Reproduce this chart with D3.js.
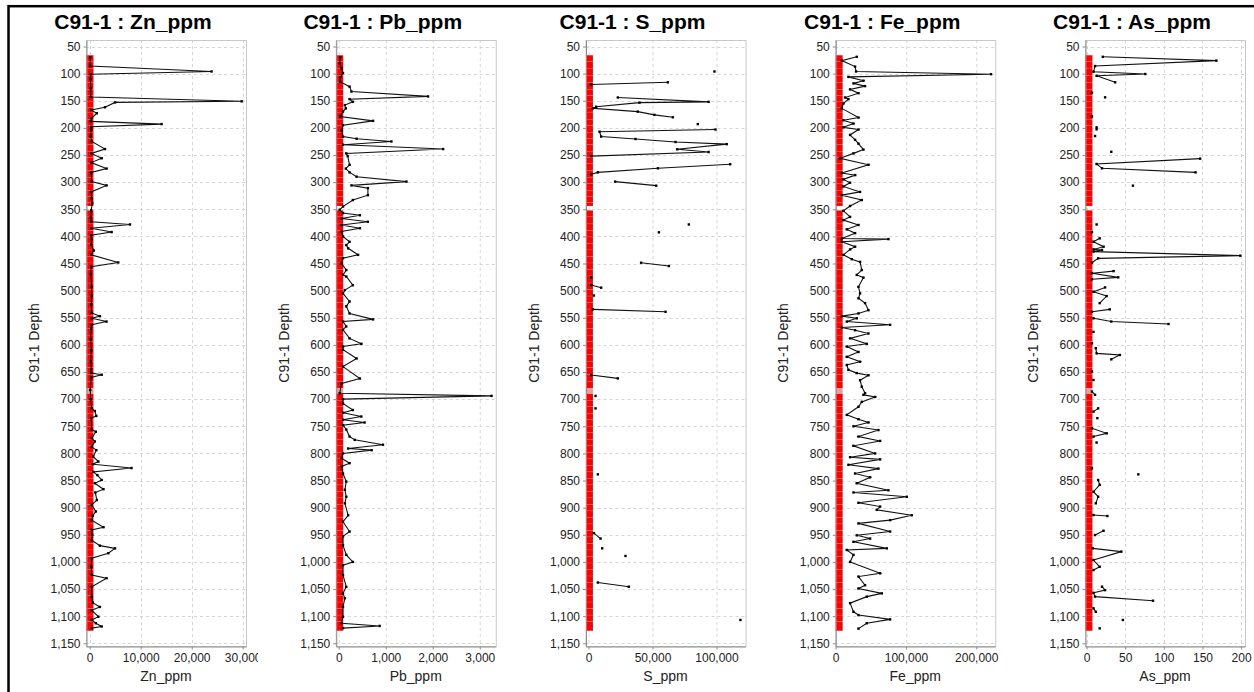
<!DOCTYPE html>
<html>
<head>
<meta charset="utf-8">
<script src="https://cdn.jsdelivr.net/npm/d3@7"></script>
<style>
  body { margin: 0; background: #fff; font-family: Arial, "Liberation Sans", sans-serif; }
  .grid line { stroke: #d6d6d6; stroke-dasharray: 3,3; stroke-width: 1; }
  .axis path, .axis line { stroke: #8c8c8c; }
  .axis text { font-size: 12px; fill: #222; font-family: Arial, "Liberation Sans", sans-serif; }
  .frame { fill: none; stroke: #c8c8c8; }
  .trace { fill: none; stroke: #111; stroke-width: 1.1; }
  .dot { fill: #000; }
  .title { font-size: 21px; font-weight: bold; fill: #000; }
  .label { font-size: 14px; fill: #222; }
</style>
</head>
<body>
<svg id="chart" width="1254" height="692"></svg>
<script>
'use strict';

// ---- datos ----
var holeId = 'C91-1';
var depthTicks = [50, 100, 150, 200, 250, 300, 350, 400, 450, 500, 550, 600, 650, 700, 750, 800, 850, 900, 950, 1000, 1050, 1100, 1150];

// intervalos de muestreo (franja roja), cada par consecutivo es un intervalo
var sampleRunA = [66, 78, 90, 103, 116, 129, 140, 152, 163, 171, 184, 196, 208, 220, 231, 243, 255, 266, 279, 291, 303, 315, 327, 338, 344];
var sampleRunB = [352, 364, 377, 389, 401, 413, 425, 437, 449, 461, 473, 486, 498, 510, 522, 534, 546, 558, 570, 582, 594, 606, 618, 630, 642, 655, 667, 680];
var samplePale = [680, 690];
var sampleRunC = [690, 702, 714, 726, 738, 750, 762, 774, 786, 798, 810, 822, 834, 846, 858, 870, 882, 894, 906, 918, 930, 942, 954, 966, 978, 990, 1002, 1014, 1026, 1038, 1050, 1062, 1074, 1086, 1098, 1110, 1127];

// [profundidad, ppm]; null corta la linea
var zn = [[70,100],[86,100],[96,23900],[101,200],[110,150],[127,200],[143,200],[151,29800],[153,4960],[162,3000],[167,300],[173,1400],[182,400],[188,200],[193,14100],[198,300],[203,300],[215,200],[225,400],[239,3000],[247,300],[256,2350],[264,300],[275,3300],[282,300],[299,400],[306,3300],[318,300],[330,400],[339,500],[352,300],[365,200],[373,300],[378,7900],[385,300],[392,4300],[398,300],[405,400],[415,300],[426,800],[434,300],[448,5600],[456,300],[470,200],[493,400],[510,400],[525,300],[541,400],[547,2000],[551,400],[557,3300],[563,400],[570,300],[590,200],[610,300],[630,200],[645,300],[652,300],[655,2350],[660,300],[683,100],[700,200],[717,400],[722,1000],[731,1300],[735,300],[756,400],[760,1200],[772,400],[778,1000],[788,400],[794,1300],[806,700],[815,1700],[820,600],[827,8200],[834,700],[840,1500],[849,2350],[855,1000],[866,2700],[872,1100],[886,1400],[895,400],[907,1200],[915,600],[923,400],[936,2700],[941,400],[950,500],[960,400],[970,2000],[975,4960],[984,3650],[993,400],[1009,300],[1024,400],[1030,3300],[1046,400],[1064,400],[1075,600],[1083,2000],[1089,400],[1101,1700],[1107,400],[1113,1200],[1119,2350],[1122,400]];

var pb = [[70,30],[81,20],[90,60],[99,90],[107,30],[115,30],[124,230],[133,270],[142,1900],[147,230],[152,300],[158,130],[164,150],[170,90],[179,30],[187,730],[195,90],[205,60],[216,90],[220,380],[225,1120],[231,90],[239,2220],[247,160],[252,190],[268,230],[275,150],[282,230],[290,380],[299,1440],[306,270],[311,620],[324,620],[333,300],[345,90],[351,20],[357,90],[361,450],[367,60],[373,620],[379,60],[385,450],[391,60],[400,90],[410,230],[416,160],[422,200],[434,410],[440,90],[450,60],[462,160],[471,90],[474,160],[490,300],[499,130],[505,90],[520,230],[529,160],[542,230],[553,730],[557,90],[566,160],[572,90],[588,230],[598,480],[603,90],[609,90],[625,380],[640,90],[662,450],[671,60],[689,20],[694,3250],[700,90],[708,90],[720,300],[725,90],[732,480],[738,90],[743,550],[748,90],[756,160],[769,230],[775,340],[784,940],[791,200],[794,700],[800,90],[809,60],[818,230],[824,60],[837,90],[852,160],[867,130],[880,160],[892,130],[914,200],[926,90],[944,230],[953,90],[969,90],[987,160],[1000,300],[1006,90],[1024,90],[1046,160],[1058,90],[1067,130],[1083,90],[1101,90],[1113,60],[1118,870],[1122,90]];

var s = [[96,98400],null,[116,62000],[120,2000],null,[144,22900],[152,93800],[153.5,39800],[161,6000],[164,3400],[170,38500],[176,51500],[180.5,65900],null,[193,85400],null,[203,99200],[207,8600],[216,9900],[220.5,36700],[226,68000],[230,108000],[239.5,69300],[244.5,93800],[252,2100],null,[267,110700],[274.5,54200],[282,7300],[285.6,2100],null,[299,20800],[306.5,52900],null,[378,78400],null,[392.5,55000],null,[448.5,41100],[454.6,62800],null,[475.5,2100],null,[489.6,2100],[494.5,9900],null,[509,4200],null,[534.5,3400],[539,60200],null,[655.5,2100],[661.7,22900],null,[694,5500],null,[717,5500],null,[838.6,7300],null,[947,4200],[957,9400],null,[975,10700],null,[989,28900],null,[1038,7300],[1045.7,31500],null,[1107,118700]];

var fe = [[69,30100],[76,8800],[87,27700],[96,29100],[101,221000],[106,18200],[113,39600],[118,25400],[123,41900],[129,20600],[136,32500],[144,13500],[147,18200],[155,11100],[164,8800],[181,32500],[186,11100],[192,25400],[199,11100],[203,32500],[213,20600],[222,27700],[229,32500],[240,39600],[247,25400],[256,6400],[268,46700],[283,8800],[287,27700],[295,11100],[301,20600],[308,11100],[318,34800],[324,8800],[333,37200],[344,20600],[353,11100],[364,20600],[370,11100],[379,32500],[387,15900],[394,27700],[404,8800],[405,75100],[410,8800],[419,27700],[424,20600],[434,11100],[442,23000],[447,34800],[462,37200],[471,30100],[476,39600],[493,32500],[505,34800],[514,32500],[523,41900],[536,46700],[542,32500],[547,8800],[551,30100],[557,15900],[563,77500],[568,8800],[573,27700],[579,46700],[588,20600],[598,44300],[603,15900],[613,32500],[622,15900],[631,34800],[637,15900],[646,18200],[652,30100],[656,46700],[665,34800],[677,37200],[689,41900],[692,39600],[696,56200],[705,37200],[714,32500],[729,15900],[737,32500],[743,46700],[750,25400],[757,60900],[769,32500],[777,63300],[786,25400],[800,56200],[807,20600],[811,63300],[821,18200],[828,60900],[837,27700],[844,49100],[855,30100],[868,75100],[872,25400],[880,101200],[891,32500],[898,63300],[904,58500],[914,108300],[923,77500],[929,32500],[944,77500],[951,30100],[957,49100],[963,25400],[975,72800],[978,15900],[987,25400],[1000,20600],[1021,63300],[1027,32500],[1043,41900],[1049,32500],[1058,65700],[1064,44300],[1076,20600],[1092,25400],[1098,32500],[1106,77500],[1113,44300],[1123,32500]];

var as = [[69,21],[76,168],[86,11],[96.4,9],[100.7,76],[104,13],[116,37],null,[135,7],null,[143.7,24],null,[179,7],null,[199,13],[202.7,13],null,[215,11],null,[244,32],null,[256.7,147],[266.6,13],[274.5,20],[282,141],null,[306.5,60],null,[378,13],null,[392,7],null,[403.6,17],[409.7,9],[419,22],[424,9],[425,20],[428,9],[435.5,199],[440.5,15],[448.5,7],null,[464,35],[468,7],[475.5,41],[479,7],null,[494,24],[502,9],[510,26],[523,17],null,[534.5,30],[539,7],null,[551,9],[557,32],[561.5,106],null,[576,9],null,[597,7],null,[606,12],[615.6,13],[618.6,43],[626.6,32],null,[649,7],null,[664.7,9],null,[686,7],[692,11],null,[717,15],[723,9],null,[735,14],null,[753.8,7],[763,26],[769,9],null,[780,13],null,[827.6,7],null,[838.6,67],null,[849,15],[858,17],[870.6,9],[879.8,15],[892,12],null,[913.6,9],[915.4,27],null,[942.5,22],[950.5,11],null,[975,8],[981,45],[996.5,9],[1009,17],[1015,9],null,[1045.7,20],[1052,24],[1057,9],[1064,11],[1071.5,86],null,[1085.6,9],[1092,12],null,[1107,47],null,[1122.5,17]];

var elementNames = ['Zn_ppm', 'Pb_ppm', 'S_ppm', 'Fe_ppm', 'As_ppm'];
var elementData = [zn, pb, s, fe, as];
var elementTicks = [
    [0, 10000, 20000, 30000],
    [0, 1000, 2000, 3000],
    [0, 50000, 100000],
    [0, 100000, 200000],
    [0, 50, 100, 150, 200]
];
var elementDomains = [[-725, 30650], [-64, 3340], [-2344, 122656], [-500, 227000], [-2, 205]];

// ---- dibujo ----
var svg = d3.select('#chart');
var panelWidth = 249.75;
var plot = { left: 78, top: 40, width: 160, height: 606 };
var stripWidth = 7;
var fmt = d3.format(',');

svg.append('rect')
    .attr('x', 8.5).attr('y', 6.2)
    .attr('width', 1400).attr('height', 900)
    .attr('fill', 'none').attr('stroke', '#000').attr('stroke-width', 2.5);

var y = d3.scaleLinear().domain([38, 1155]).range([plot.top, plot.top + plot.height]);

function drawStrip(g, breaks, fill) {
    var pairs = d3.pairs(breaks);
    g.selectAll(null).data(pairs).enter().append('rect')
        .attr('x', 0.5)
        .attr('y', function (d) { return y(d[0]); })
        .attr('width', stripWidth)
        .attr('height', function (d) { return y(d[1]) - y(d[0]); })
        .attr('fill', fill)
        .attr('stroke', 'rgba(255,255,255,0.2)')
        .attr('stroke-width', 0.5);
}

function drawPanel(i) {
    var px = 8 + i * panelWidth;
    var panel = svg.append('g');

    panel.append('clipPath').attr('id', 'clip' + i)
        .append('rect').attr('x', px).attr('y', 0).attr('width', 250).attr('height', 692);
    panel.attr('clip-path', 'url(#clip' + i + ')');

    panel.append('text').attr('class', 'title')
        .attr('x', px + 125).attr('y', 29)
        .attr('text-anchor', 'middle')
        .text(holeId + ' : ' + elementNames[i]);

    var g = panel.append('g').attr('transform', 'translate(' + (px + plot.left) + ',0)');

    var x = d3.scaleLinear().domain(elementDomains[i]).range([0, plot.width]);

    // rejilla
    var grid = g.append('g').attr('class', 'grid');
    grid.selectAll(null).data(depthTicks).enter().append('line')
        .attr('x1', 0).attr('x2', plot.width)
        .attr('y1', function (d) { return Math.round(y(d)) + 0.5; })
        .attr('y2', function (d) { return Math.round(y(d)) + 0.5; });
    grid.selectAll(null).data(elementTicks[i]).enter().append('line')
        .attr('y1', plot.top).attr('y2', plot.top + plot.height)
        .attr('x1', function (d) { return Math.round(x(d)) + 0.5; })
        .attr('x2', function (d) { return Math.round(x(d)) + 0.5; });

    g.append('rect').attr('class', 'frame')
        .attr('x', 0.5).attr('y', plot.top + 0.5)
        .attr('width', plot.width).attr('height', plot.height);

    // franja de intervalos
    var strip = g.append('g');
    drawStrip(strip, sampleRunA, '#ff0000');
    drawStrip(strip, sampleRunB, '#ff0000');
    drawStrip(strip, samplePale, '#f59a9a');
    drawStrip(strip, sampleRunC, '#ff0000');

    // ejes
    var axisY = d3.axisLeft(y).tickValues(depthTicks).tickFormat(fmt).tickSize(3).tickSizeOuter(0).tickPadding(3);
    g.append('g').attr('class', 'axis axis-y').attr('transform', 'translate(0.5,0)').call(axisY);

    var axisX = d3.axisBottom(x).tickValues(elementTicks[i]).tickFormat(fmt).tickSize(3).tickSizeOuter(0).tickPadding(4);
    g.append('g').attr('class', 'axis axis-x')
        .attr('transform', 'translate(0,' + (plot.top + plot.height + 0.5) + ')')
        .call(axisX);

    // etiquetas
    panel.append('text').attr('class', 'label')
        .attr('text-anchor', 'middle')
        .attr('transform', 'translate(' + (px + 31) + ',' + (plot.top + plot.height / 2) + ') rotate(-90)')
        .text(holeId + ' Depth');

    panel.append('text').attr('class', 'label')
        .attr('x', px + plot.left + plot.width / 2).attr('y', 681)
        .attr('text-anchor', 'middle')
        .text(elementNames[i]);

    // traza
    var line = d3.line()
        .defined(function (d) { return d; })
        .x(function (d) { return x(d[1]); })
        .y(function (d) { return y(d[0]); });

    var data = elementData[i];
    g.append('path').attr('class', 'trace').attr('d', line(data));

    g.selectAll('.dot').data(data.filter(function (d) { return d; })).enter().append('rect')
        .attr('class', 'dot')
        .attr('x', function (d) { return x(d[1]) - 1.2; })
        .attr('y', function (d) { return y(d[0]) - 1.2; })
        .attr('width', 2.4).attr('height', 2.4);
}

for (var i = 0; i < elementNames.length; i++) {
    drawPanel(i);
}
</script>
</body>
</html>
